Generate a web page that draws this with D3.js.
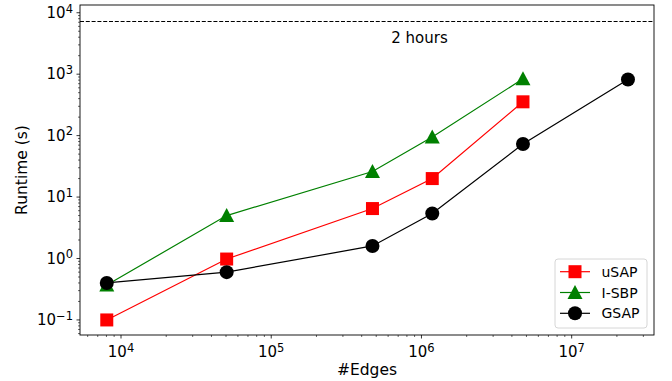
<!DOCTYPE html>
<html>
<head>
<meta charset="utf-8">
<script src="https://cdn.jsdelivr.net/npm/d3@7"></script>
<style>
  body { margin: 0; background: #fff; }
  svg { font-family: "DejaVu Sans", sans-serif; }
</style>
</head>
<body>
<div id="chart"></div>
<script>
// data
const edges = [8040, 50500, 472000, 1180000, 4740000, 23700000];
const usap = [0.1, 0.98, 6.5, 20, 355];
const isbp = [0.37, 5.0, 26, 95, 840];
const gsap = [0.40, 0.60, 1.6, 5.4, 73, 820];
const seriesNames = ["uSAP", "I-SBP", "GSAP"];
const seriesColors = ["#ff0000", "#008000", "#000000"];
const seriesShapes = ["square", "triangle", "circle"];
const limitSeconds = 7200;
const limitLabel = "2 hours";
const xTicks = [1e4, 1e5, 1e6, 1e7];
const yTicks = [1e-1, 1e0, 1e1, 1e2, 1e3, 1e4];

const W = 672, H = 381;
let margin = {top: 5, right: 18, bottom: 46, left: 80};
let width = W - margin.left - margin.right;
let height = H - margin.top - margin.bottom;

let svg = d3.select("#chart")
  .append("svg")
    .attr("width", W)
    .attr("height", H);
let g = svg.append("g")
    .attr("transform", "translate(" + margin.left + "," + margin.top + ")");

let x = d3.scaleLog()
    .domain([Math.pow(10, 3.727), Math.pow(10, 7.548)])
    .range([0, width]);
let y = d3.scaleLog()
    .domain([Math.pow(10, -1.245), Math.pow(10, 4.126)])
    .range([height, 0]);

// minor ticks
function minors(scale) {
  let d = scale.domain(), out = [];
  for (let e = Math.floor(Math.log10(d[0])); e <= Math.ceil(Math.log10(d[1])); e++) {
    for (let k = 2; k <= 9; k++) {
      let v = k * Math.pow(10, e);
      if (v >= d[0] && v <= d[1]) out.push(v);
    }
  }
  return out;
}

function tickLabel(sel, v) {
  let e = Math.round(Math.log10(v));
  sel.append("tspan").text("10");
  sel.append("tspan").attr("dy", "-0.45em").attr("font-size", "11.5px").text(String(e).replace("-", "\u2212"));
}

// x axis ticks
let xAx = g.append("g").attr("transform", "translate(0," + height + ")");
minors(x).forEach(v => {
  xAx.append("line").attr("x1", x(v)).attr("x2", x(v)).attr("y1", 0).attr("y2", 2)
    .attr("stroke", "#000").attr("stroke-width", 0.6);
});
xTicks.forEach(v => {
  xAx.append("line").attr("x1", x(v)).attr("x2", x(v)).attr("y1", 0).attr("y2", 3.5)
    .attr("stroke", "#000").attr("stroke-width", 0.8);
  let t = xAx.append("text").attr("x", x(v)).attr("y", 22)
    .attr("text-anchor", "middle").attr("font-size", "15px").attr("fill", "#000");
  tickLabel(t, v);
});

// y axis ticks
let yAx = g.append("g");
minors(y).forEach(v => {
  yAx.append("line").attr("x1", 0).attr("x2", -2).attr("y1", y(v)).attr("y2", y(v))
    .attr("stroke", "#000").attr("stroke-width", 0.6);
});
yTicks.forEach(v => {
  yAx.append("line").attr("x1", 0).attr("x2", -3.5).attr("y1", y(v)).attr("y2", y(v))
    .attr("stroke", "#000").attr("stroke-width", 0.8);
  let t = yAx.append("text").attr("x", -7).attr("y", y(v) + 5)
    .attr("text-anchor", "end").attr("font-size", "15px").attr("fill", "#000");
  tickLabel(t, v);
});

// axis labels
g.append("text")
  .attr("x", width / 2).attr("y", height + 40)
  .attr("text-anchor", "middle").attr("font-size", "15.5px")
  .text("#Edges");
g.append("text")
  .attr("transform", "translate(" + (-53) + "," + (height / 2) + ") rotate(-90)")
  .attr("text-anchor", "middle").attr("font-size", "15.5px")
  .text("Runtime (s)");

// 2 hours line
g.append("line")
  .attr("x1", 0).attr("x2", width)
  .attr("y1", y(limitSeconds)).attr("y2", y(limitSeconds))
  .attr("stroke", "#000").attr("stroke-width", 1.1)
  .attr("stroke-dasharray", "4,1.8");
g.append("text")
  .attr("x", x(6.3e5)).attr("y", y(3250))
  .attr("font-size", "15px")
  .text(limitLabel);

// markers
function marker(sel, shape, color, cx, cy) {
  if (shape === "square") {
    sel.append("rect").attr("x", cx - 6.5).attr("y", cy - 6.5)
      .attr("width", 13).attr("height", 13).attr("fill", color);
  } else if (shape === "triangle") {
    sel.append("path")
      .attr("d", "M" + cx + "," + (cy - 7.5) + "L" + (cx + 7.5) + "," + (cy + 6.5) + "L" + (cx - 7.5) + "," + (cy + 6.5) + "Z")
      .attr("fill", color);
  } else {
    sel.append("circle").attr("cx", cx).attr("cy", cy).attr("r", 7).attr("fill", color);
  }
}

const allSeries = [usap, isbp, gsap];
let line = d3.line()
  .x((d, i) => x(edges[i]))
  .y(d => y(d));

allSeries.forEach((s, k) => {
  let sg = g.append("g");
  sg.append("path")
    .datum(s)
    .attr("fill", "none")
    .attr("stroke", seriesColors[k])
    .attr("stroke-width", 1.2)
    .attr("d", line);
  s.forEach((v, i) => marker(sg, seriesShapes[k], seriesColors[k], x(edges[i]), y(v)));
});

// frame
g.append("rect")
  .attr("width", width).attr("height", height)
  .attr("fill", "none").attr("stroke", "#000").attr("stroke-width", 0.9);

// legend
let lg = g.append("g").attr("transform", "translate(" + (555 - margin.left) + "," + (259 - margin.top) + ")");
lg.append("rect")
  .attr("width", 92).attr("height", 69).attr("rx", 3)
  .attr("fill", "#fff").attr("fill-opacity", 0.8)
  .attr("stroke", "#d6d6d6").attr("stroke-width", 1);
seriesNames.forEach((name, k) => {
  let ry = 12.7 + k * 20.8;
  lg.append("line").attr("x1", 5).attr("x2", 35).attr("y1", ry).attr("y2", ry)
    .attr("stroke", seriesColors[k]).attr("stroke-width", 1.2);
  marker(lg, seriesShapes[k], seriesColors[k], 20, ry);
  lg.append("text").attr("x", 46.5).attr("y", ry + 5)
    .attr("font-size", "14px").text(name);
});
</script>
</body>
</html>
